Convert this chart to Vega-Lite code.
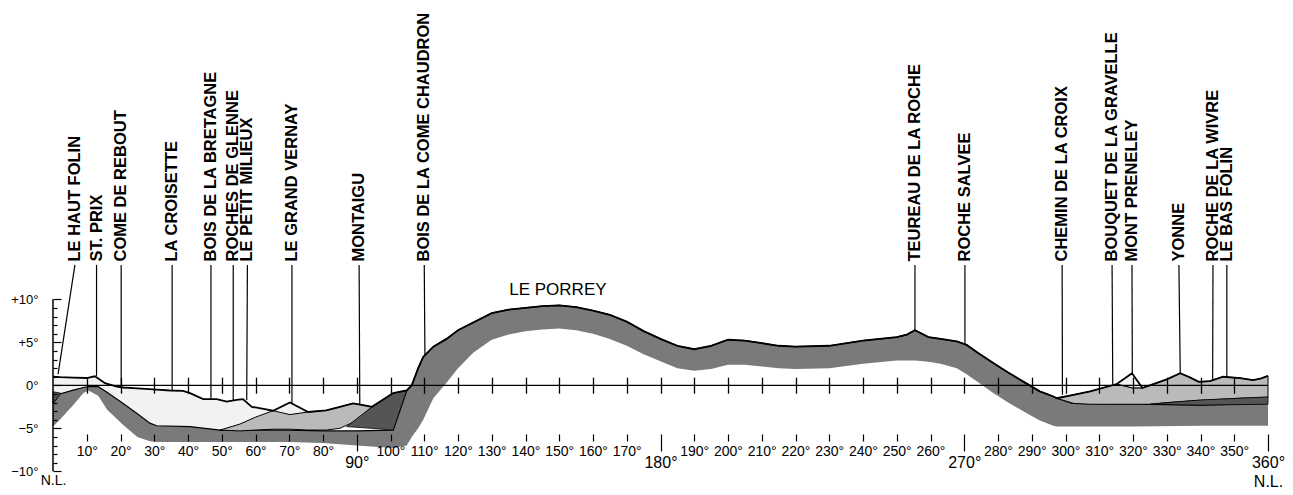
{
  "$schema": "https://vega.github.io/schema/vega-lite/v6.json",
  "width": 1215,
  "height": 495,
  "autosize": {"type": "none"},
  "padding": {"left": 53, "top": 0, "right": 25, "bottom": 0},
  "background": "white",
  "config": {
    "view": {"stroke": null},
    "axis": {"grid": false, "domain": false, "labelFont": "Liberation Sans", "labelColor": "black", "tickColor": "black"}
  },
  "resolve": {"axis": {"x": "independent", "y": "independent"}},
  "datasets": {
    "sparse": [
      {"x": 0, "top": 1.0, "bot": -0.75}, {"x": 2.2, "top": 0.95, "bot": -0.9}, {"x": 6, "top": 0.9, "bot": -0.55},
      {"x": 10, "top": 0.85, "bot": -0.15}, {"x": 12.4, "top": 1.05, "bot": -0.15}, {"x": 13.4, "top": 0.8, "bot": -0.15},
      {"x": 15.4, "top": 0.25, "bot": -0.5}, {"x": 16, "top": 0.15, "bot": -0.8}, {"x": 18.9, "top": -0.15, "bot": -1.5},
      {"x": 20.8, "top": -0.25, "bot": -2.1}, {"x": 25, "top": -0.35, "bot": -3.3}, {"x": 28.7, "top": -0.45, "bot": -4.4},
      {"x": 30.7, "top": -0.5, "bot": -4.7}, {"x": 34.7, "top": -0.6, "bot": -4.75}, {"x": 38.5, "top": -0.65, "bot": -4.8},
      {"x": 40.6, "top": -0.9, "bot": -4.8}, {"x": 44.5, "top": -1.6, "bot": -5.0}, {"x": 48.5, "top": -1.6, "bot": -5.2},
      {"x": 51.5, "top": -1.9, "bot": -5.2}, {"x": 54.4, "top": -1.7, "bot": -5.2}, {"x": 56.3, "top": -1.6, "bot": -5.2},
      {"x": 58.9, "top": -2.5, "bot": -5.2}, {"x": 62, "top": -2.7, "bot": -5.2}, {"x": 65.2, "top": -2.95, "bot": -5.2},
      {"x": 70.2, "top": -2.0, "bot": -5.2}, {"x": 75.6, "top": -3.1, "bot": -5.2}
    ],
    "hatchF": [
      {"x": 0, "top": -2.1, "bot": -4.8}, {"x": 2, "top": -1.0, "bot": -4.0}, {"x": 6, "top": -0.55, "bot": -2.3},
      {"x": 9, "top": -0.25, "bot": -0.9}, {"x": 10.5, "top": -0.15, "bot": -0.6}, {"x": 13.4, "top": -0.15, "bot": -1.2},
      {"x": 16, "top": -0.8, "bot": -2.8}, {"x": 20.8, "top": -2.1, "bot": -4.6}, {"x": 25, "top": -3.3, "bot": -6.0},
      {"x": 28.7, "top": -4.4, "bot": -6.5}, {"x": 30.7, "top": -4.7, "bot": -6.6}, {"x": 40.6, "top": -4.8, "bot": -6.6},
      {"x": 49.5, "top": -5.2, "bot": -6.6}, {"x": 60, "top": -5.2, "bot": -6.6}, {"x": 70, "top": -5.2, "bot": -6.6},
      {"x": 80, "top": -5.3, "bot": -6.7}, {"x": 90, "top": -5.3, "bot": -7.0}, {"x": 100.8, "top": -5.2, "bot": -7.3},
      {"x": 104.8, "top": -0.6, "bot": -7.0}, {"x": 106.3, "top": 0.0, "bot": -6.0}, {"x": 108.2, "top": 2.0, "bot": -5.0},
      {"x": 109.7, "top": 3.3, "bot": -4.0}, {"x": 112.7, "top": 4.5, "bot": -1.5}, {"x": 116.6, "top": 5.4, "bot": 0.3},
      {"x": 120, "top": 6.4, "bot": 2.0}, {"x": 124.5, "top": 7.3, "bot": 3.8}, {"x": 130, "top": 8.4, "bot": 5.3},
      {"x": 135, "top": 8.8, "bot": 5.9}, {"x": 140, "top": 9.0, "bot": 6.3}, {"x": 145, "top": 9.2, "bot": 6.5},
      {"x": 150, "top": 9.3, "bot": 6.6}, {"x": 155, "top": 9.1, "bot": 6.4}, {"x": 160, "top": 8.7, "bot": 6.0},
      {"x": 165, "top": 8.2, "bot": 5.4}, {"x": 170, "top": 7.4, "bot": 4.6}, {"x": 175, "top": 6.3, "bot": 3.6},
      {"x": 180, "top": 5.4, "bot": 2.8}, {"x": 185, "top": 4.6, "bot": 2.0}, {"x": 190, "top": 4.2, "bot": 1.7},
      {"x": 195, "top": 4.6, "bot": 1.9}, {"x": 200, "top": 5.3, "bot": 2.4}, {"x": 205, "top": 5.2, "bot": 2.4},
      {"x": 210, "top": 4.9, "bot": 2.2}, {"x": 215, "top": 4.6, "bot": 2.0}, {"x": 220, "top": 4.5, "bot": 1.9},
      {"x": 230, "top": 4.6, "bot": 2.0}, {"x": 240, "top": 5.2, "bot": 2.5}, {"x": 250, "top": 5.6, "bot": 2.9},
      {"x": 253, "top": 5.9, "bot": 2.9}, {"x": 255.4, "top": 6.4, "bot": 2.9}, {"x": 259.4, "top": 5.6, "bot": 2.75},
      {"x": 263, "top": 5.4, "bot": 2.5}, {"x": 267.8, "top": 5.1, "bot": 2.0}, {"x": 270.7, "top": 4.7, "bot": 1.3},
      {"x": 274, "top": 3.8, "bot": 0.4}, {"x": 278.6, "top": 2.6, "bot": -0.9}, {"x": 283, "top": 1.5, "bot": -2.0},
      {"x": 288.5, "top": 0.2, "bot": -3.25}, {"x": 292.4, "top": -0.7, "bot": -4.1}, {"x": 296.4, "top": -1.3, "bot": -4.7},
      {"x": 297.4, "top": -1.5, "bot": -4.8}, {"x": 302, "top": -2.1, "bot": -4.8}, {"x": 320, "top": -2.2, "bot": -4.8},
      {"x": 340, "top": -2.3, "bot": -4.7}, {"x": 360, "top": -2.1, "bot": -4.7}
    ],
    "dense": [
      {"g": "L", "x": 49.5, "top": -5.2, "bot": -5.2}, {"g": "L", "x": 55.4, "top": -4.5, "bot": -5.3},
      {"g": "L", "x": 60, "top": -3.7, "bot": -5.2}, {"g": "L", "x": 65.2, "top": -2.95, "bot": -5.1},
      {"g": "L", "x": 70.2, "top": -3.4, "bot": -5.1}, {"g": "L", "x": 75.6, "top": -3.1, "bot": -5.2},
      {"g": "L", "x": 81, "top": -2.9, "bot": -5.2}, {"g": "L", "x": 85, "top": -2.5, "bot": -5.0},
      {"g": "L", "x": 88.9, "top": -2.1, "bot": -4.3}, {"g": "L", "x": 91.9, "top": -2.3, "bot": -3.4},
      {"g": "L", "x": 94.5, "top": -2.5, "bot": -2.5},
      {"g": "R", "x": 297.4, "top": -1.5, "bot": -1.5}, {"g": "R", "x": 302.4, "top": -1.1, "bot": -2.1},
      {"g": "R", "x": 307.3, "top": -0.7, "bot": -2.2}, {"g": "R", "x": 315.2, "top": 0.15, "bot": -2.2},
      {"g": "R", "x": 319.7, "top": -0.29, "bot": -2.2}, {"g": "R", "x": 322.8, "top": -0.3, "bot": -2.2},
      {"g": "R", "x": 325, "top": 0.0, "bot": -2.2}, {"g": "R", "x": 330, "top": 0.7, "bot": -2.0},
      {"g": "R", "x": 334, "top": 1.4, "bot": -1.9}, {"g": "R", "x": 337, "top": 0.9, "bot": -1.8},
      {"g": "R", "x": 339.5, "top": 0.4, "bot": -1.75}, {"g": "R", "x": 342.8, "top": 0.5, "bot": -1.7},
      {"g": "R", "x": 346.7, "top": 1.0, "bot": -1.6}, {"g": "R", "x": 351.7, "top": 0.85, "bot": -1.5},
      {"g": "R", "x": 355.6, "top": 0.6, "bot": -1.45}, {"g": "R", "x": 358, "top": 0.8, "bot": -1.4},
      {"g": "R", "x": 360, "top": 1.1, "bot": -1.4}
    ],
    "peak": [
      {"x": 315.2, "top": 0.15, "bot": 0.15}, {"x": 319.7, "top": 1.4, "bot": -0.29}, {"x": 322.8, "top": -0.3, "bot": -0.3}
    ],
    "hatchB": [
      {"g": "a", "x": 0, "top": -0.75, "bot": -2.1}, {"g": "a", "x": 2.2, "top": -0.9, "bot": -1.0},
      {"g": "b", "x": 87, "top": -4.8, "bot": -4.8}, {"g": "b", "x": 94.5, "top": -2.5, "bot": -5.0},
      {"g": "b", "x": 100.8, "top": -0.9, "bot": -5.2}, {"g": "b", "x": 104.8, "top": -0.6, "bot": -0.6},
      {"g": "c", "x": 325, "top": -2.2, "bot": -2.2}, {"g": "c", "x": 340, "top": -1.7, "bot": -2.3},
      {"g": "c", "x": 360, "top": -1.35, "bot": -2.2}
    ],
    "sky": [
      {"x": 0, "y": 1.0}, {"x": 2.2, "y": 0.95}, {"x": 6, "y": 0.9}, {"x": 10, "y": 0.85}, {"x": 12.4, "y": 1.05},
      {"x": 13.4, "y": 0.8}, {"x": 15.4, "y": 0.25}, {"x": 18.9, "y": -0.15}, {"x": 20.8, "y": -0.25}, {"x": 25, "y": -0.35},
      {"x": 30.7, "y": -0.5}, {"x": 34.7, "y": -0.6}, {"x": 38.5, "y": -0.65}, {"x": 40.6, "y": -0.9}, {"x": 44.5, "y": -1.6},
      {"x": 48.5, "y": -1.6}, {"x": 51.5, "y": -1.9}, {"x": 54.4, "y": -1.7}, {"x": 56.3, "y": -1.6}, {"x": 58.9, "y": -2.5},
      {"x": 62, "y": -2.7}, {"x": 65.2, "y": -2.95}, {"x": 70.2, "y": -2.0}, {"x": 75.6, "y": -3.1}, {"x": 81, "y": -2.9},
      {"x": 85, "y": -2.5}, {"x": 88.9, "y": -2.1}, {"x": 91.9, "y": -2.3}, {"x": 94.5, "y": -2.5}, {"x": 100.8, "y": -0.9},
      {"x": 104.8, "y": -0.6}, {"x": 106.3, "y": 0.0}, {"x": 108.2, "y": 2.0}, {"x": 109.7, "y": 3.3}, {"x": 112.7, "y": 4.5},
      {"x": 116.6, "y": 5.4}, {"x": 120, "y": 6.4}, {"x": 124.5, "y": 7.3}, {"x": 130, "y": 8.4}, {"x": 135, "y": 8.8},
      {"x": 140, "y": 9.0}, {"x": 145, "y": 9.2}, {"x": 150, "y": 9.3}, {"x": 155, "y": 9.1}, {"x": 160, "y": 8.7},
      {"x": 165, "y": 8.2}, {"x": 170, "y": 7.4}, {"x": 175, "y": 6.3}, {"x": 180, "y": 5.4}, {"x": 185, "y": 4.6},
      {"x": 190, "y": 4.2}, {"x": 195, "y": 4.6}, {"x": 200, "y": 5.3}, {"x": 205, "y": 5.2}, {"x": 210, "y": 4.9},
      {"x": 215, "y": 4.6}, {"x": 220, "y": 4.5}, {"x": 230, "y": 4.6}, {"x": 240, "y": 5.2}, {"x": 250, "y": 5.6},
      {"x": 253, "y": 5.9}, {"x": 255.4, "y": 6.4}, {"x": 259.4, "y": 5.6}, {"x": 263, "y": 5.4}, {"x": 267.8, "y": 5.1},
      {"x": 270.7, "y": 4.7}, {"x": 274, "y": 3.8}, {"x": 278.6, "y": 2.6}, {"x": 283, "y": 1.5}, {"x": 288.5, "y": 0.2},
      {"x": 292.4, "y": -0.7}, {"x": 296.4, "y": -1.3}, {"x": 297.4, "y": -1.5}, {"x": 302.4, "y": -1.1}, {"x": 307.3, "y": -0.7},
      {"x": 315.2, "y": 0.15}, {"x": 319.7, "y": 1.4}, {"x": 322.8, "y": -0.3}, {"x": 325, "y": 0.0}, {"x": 330, "y": 0.7},
      {"x": 334, "y": 1.4}, {"x": 337, "y": 0.9}, {"x": 339.5, "y": 0.4}, {"x": 342.8, "y": 0.5}, {"x": 346.7, "y": 1.0},
      {"x": 351.7, "y": 0.85}, {"x": 355.6, "y": 0.6}, {"x": 358, "y": 0.8}, {"x": 360, "y": 1.1}
    ],
    "names": [
      {"name": "LE HAUT FOLIN", "x": 6.5, "xe": 1.5, "ye": 1.3},
      {"name": "ST. PRIX", "x": 12.9, "xe": 12.9, "ye": 1.1},
      {"name": "COME DE REBOUT", "x": 20.2, "xe": 20.2, "ye": 0.0},
      {"name": "LA CROISETTE", "x": 35.3, "xe": 35.3, "ye": -0.6},
      {"name": "BOIS DE LA BRETAGNE", "x": 46.8, "xe": 46.8, "ye": -1.5},
      {"name": "ROCHES DE GLENNE", "x": 53.4, "xe": 53.4, "ye": -1.8},
      {"name": "LE PETIT MILIEUX", "x": 57.6, "xe": 57.4, "ye": -1.7},
      {"name": "LE GRAND VERNAY", "x": 70.8, "xe": 70.8, "ye": -2.1},
      {"name": "MONTAIGU", "x": 90.7, "xe": 90.9, "ye": -2.2},
      {"name": "BOIS DE LA COME CHAUDRON", "x": 110.0, "xe": 110.2, "ye": 3.5},
      {"name": "TEUREAU DE LA ROCHE", "x": 255.4, "xe": 255.4, "ye": 6.4},
      {"name": "ROCHE SALVEE", "x": 270.2, "xe": 270.2, "ye": 4.8},
      {"name": "CHEMIN DE LA CROIX", "x": 299.0, "xe": 299.1, "ye": -1.1},
      {"name": "BOUQUET DE LA GRAVELLE", "x": 313.8, "xe": 314.0, "ye": 0.1},
      {"name": "MONT PRENELEY", "x": 319.7, "xe": 319.8, "ye": 1.4},
      {"name": "YONNE", "x": 333.6, "xe": 334.0, "ye": 1.4},
      {"name": "ROCHE DE LA WIVRE", "x": 343.7, "xe": 343.6, "ye": 0.6},
      {"name": "LE BAS FOLIN", "x": 347.8, "xe": 347.8, "ye": 1.0}
    ]
  },
  "layer": [
    {
      "data": {"name": "sparse"},
      "mark": {"type": "area", "fill": "#f2f2f2"},
      "encoding": {
        "x": {
          "field": "x", "type": "quantitative", "title": null,
          "scale": {"domain": [0, 360], "nice": false, "zero": false},
          "axis": {
            "orient": "bottom", "offset": -61, "title": null, "zindex": 1,
            "values": [0, 10, 20, 30, 40, 50, 60, 70, 80, 90, 100, 110, 120, 130, 140, 150, 160, 170, 180, 190, 200, 210, 220, 230, 240, 250, 260, 270, 280, 290, 300, 310, 320, 330, 340, 350, 360],
            "labelExpr": "datum.value == 0 ? 'N.L.' : (datum.value == 360 ? ['360°', 'N.L.'] : datum.value + '°')",
            "tickSize": {"condition": {"test": "datum.value % 90 == 0", "value": 17}, "value": 7},
            "tickOpacity": {"condition": {"test": "datum.value == 0", "value": 0}, "value": 1},
            "labelPadding": {"condition": {"test": "datum.value == 0", "value": 22}, "value": 3},
            "labelFontSize": {"condition": {"test": "datum.value % 90 == 0 && datum.value > 0", "value": 16}, "value": 14},
            "labelLineHeight": 19,
            "labelFlush": false, "labelOverlap": false, "labelBound": false,
            "tickWidth": 1.2,
            "grid": true, "gridColor": "black", "gridWidth": 1.3,
            "gridDash": [0, 377.3, 16, 1000],
            "gridOpacity": {"condition": {"test": "datum.value == 0 || datum.value == 360", "value": 0}, "value": 1}
          }
        },
        "y": {
          "field": "top", "type": "quantitative", "title": null,
          "scale": {"domain": [-12.75, 44.8], "nice": false, "zero": false},
          "axis": {
            "orient": "left", "title": null, "zindex": 1,
            "values": [-10, -9, -8, -7, -6, -5, -4, -3, -2, -1, 0, 1, 2, 3, 4, 5, 6, 7, 8, 9, 10],
            "tickSize": {"condition": {"test": "datum.value % 5 == 0", "value": -8}, "value": -4},
            "tickWidth": 1.2,
            "labelPadding": 23, "labelFontSize": 13, "labelOverlap": false, "labelBound": false, "labelFlush": false,
            "labelExpr": "datum.value % 5 != 0 ? '' : (datum.value > 0 ? '+' + datum.value + '°' : (datum.value < 0 ? '−' + abs(datum.value) + '°' : '0°'))"
          }
        },
        "y2": {"field": "bot"}
      }
    },
    {
      "data": {"name": "hatchF"},
      "mark": {"type": "area", "fill": "#7a7a7a"},
      "encoding": {
        "x": {"field": "x", "type": "quantitative", "axis": null},
        "y": {"field": "top", "type": "quantitative", "axis": null},
        "y2": {"field": "bot"}
      }
    },
    {
      "data": {"name": "hatchF"},
      "mark": {"type": "line", "stroke": "black", "strokeWidth": 1.2},
      "encoding": {
        "x": {"field": "x", "type": "quantitative", "axis": null},
        "y": {"field": "top", "type": "quantitative", "axis": null}
      }
    },
    {
      "data": {"name": "dense"},
      "mark": {"type": "area", "fill": "#bababa", "stroke": "black", "strokeWidth": 1},
      "encoding": {
        "x": {"field": "x", "type": "quantitative", "axis": null},
        "y": {"field": "top", "type": "quantitative", "axis": null},
        "y2": {"field": "bot"},
        "detail": {"field": "g", "type": "nominal"}
      }
    },
    {
      "data": {"name": "peak"},
      "mark": {"type": "area", "fill": "#f2f2f2", "stroke": "black", "strokeWidth": 1},
      "encoding": {
        "x": {"field": "x", "type": "quantitative", "axis": null},
        "y": {"field": "top", "type": "quantitative", "axis": null},
        "y2": {"field": "bot"}
      }
    },
    {
      "data": {"name": "hatchB"},
      "mark": {"type": "area", "fill": "#555555", "stroke": "black", "strokeWidth": 0.8},
      "encoding": {
        "x": {"field": "x", "type": "quantitative", "axis": null},
        "y": {"field": "top", "type": "quantitative", "axis": null},
        "y2": {"field": "bot"},
        "detail": {"field": "g", "type": "nominal"}
      }
    },
    {
      "data": {"name": "sky"},
      "mark": {"type": "line", "stroke": "black", "strokeWidth": 1.8},
      "encoding": {
        "x": {"field": "x", "type": "quantitative", "axis": null},
        "y": {"field": "y", "type": "quantitative", "axis": null}
      }
    },
    {
      "data": {"values": [{"x": 0, "x2": 360, "y": 0}]},
      "mark": {"type": "rule", "stroke": "black", "strokeWidth": 1.3},
      "encoding": {
        "x": {"field": "x", "type": "quantitative", "axis": null},
        "x2": {"field": "x2"},
        "y": {"field": "y", "type": "quantitative", "axis": null}
      }
    },
    {
      "data": {"values": [{"x": 0, "y": -10, "y2": 10}]},
      "mark": {"type": "rule", "stroke": "black", "strokeWidth": 1.5},
      "encoding": {
        "x": {"field": "x", "type": "quantitative", "axis": null},
        "y": {"field": "y", "type": "quantitative", "axis": null},
        "y2": {"field": "y2"}
      }
    },
    {
      "data": {"name": "names"},
      "mark": {"type": "rule", "stroke": "black", "strokeWidth": 1.2},
      "encoding": {
        "x": {"field": "xe", "type": "quantitative", "axis": null},
        "x2": {"field": "x"},
        "y": {"field": "ye", "type": "quantitative", "axis": null},
        "y2": {"datum": 14.0}
      }
    },
    {
      "data": {"name": "names"},
      "mark": {"type": "text", "angle": 270, "align": "left", "baseline": "middle", "fontSize": 16.5, "fontWeight": "bold", "font": "Liberation Sans", "color": "black"},
      "encoding": {
        "x": {"field": "x", "type": "quantitative", "axis": null},
        "y": {"datum": 14.4, "type": "quantitative", "axis": null},
        "text": {"field": "name", "type": "nominal"}
      }
    },
    {
      "data": {"values": [{"x": 149.6, "y": 11.1, "t": "LE PORREY"}]},
      "mark": {"type": "text", "align": "center", "baseline": "middle", "fontSize": 17, "font": "Liberation Sans", "color": "black"},
      "encoding": {
        "x": {"field": "x", "type": "quantitative", "axis": null},
        "y": {"field": "y", "type": "quantitative", "axis": null},
        "text": {"field": "t", "type": "nominal"}
      }
    }
  ]
}
